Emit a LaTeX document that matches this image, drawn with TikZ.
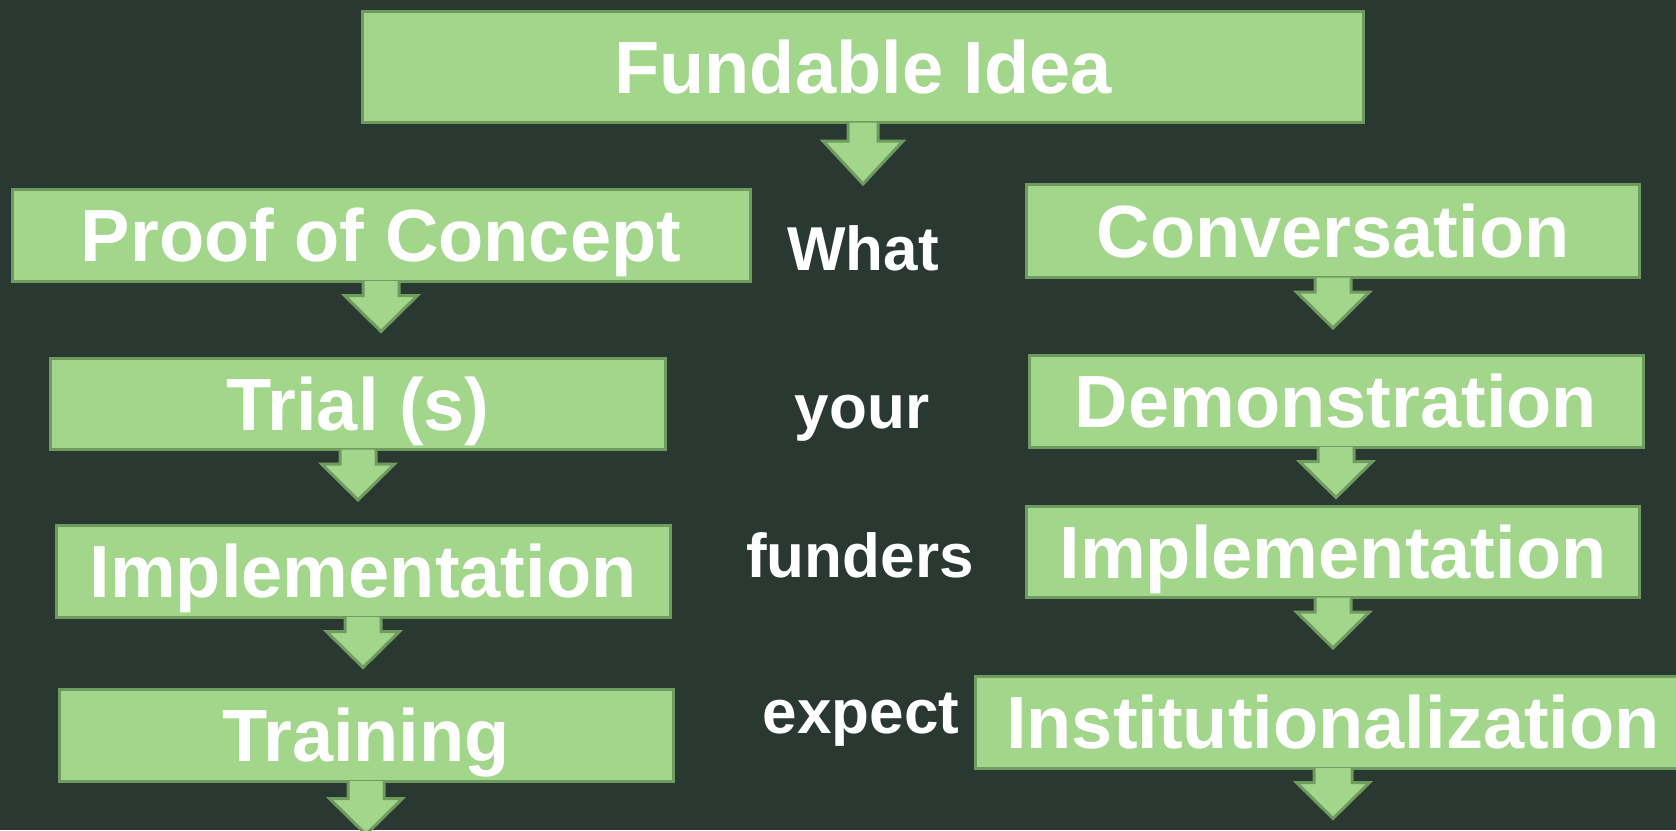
\documentclass[tikz,border=0pt]{standalone}
\usepackage{fontspec}
\setmainfont{Liberation Sans}
\usetikzlibrary{calc}
\definecolor{bgc}{RGB}{41,56,48}
\definecolor{boxfill}{RGB}{161,214,139}
\definecolor{boxline}{RGB}{111,155,95}
\newcommand\barrow[5]{%
  \filldraw[arrowshape] ($(#1.south)+(-#2,-1.5)$) -- ++(0,#3+1.5) -- ($(#1.south)+(-#4,#3)$)
    -- ($(#1.south)+(0,#3+#5)$) -- ($(#1.south)+(#4,#3)$) -- ($(#1.south)+(#2,#3)$) -- ($(#1.south)+(#2,-1.5)$);}
\begin{document}
\begin{tikzpicture}[x=1pt,y=-1pt,
  stagebox/.style={draw=boxline, line width=3pt, fill=boxfill, inner sep=0pt,
    text=white, font=\fontsize{74}{80}\selectfont\bfseries,
    text height=53pt, text depth=0pt, anchor=center},
  arrowshape/.style={draw=boxline, fill=boxfill, line width=3pt, line join=miter},
  midword/.style={text=white, font=\fontsize{62}{68}\selectfont\bfseries, anchor=base, inner sep=0pt}]
\fill[bgc] (0,0) rectangle (1676,830);
\useasboundingbox (0,0) rectangle (1676,830);
\clip (0,0) rectangle (1676,830);

\node[stagebox, minimum width=1001pt, minimum height=111pt] (idea) at (863,67) {Fundable Idea};

\node[stagebox, minimum width=738pt, minimum height=92pt] (poc) at (381,235) {Proof of Concept};
\node[stagebox, minimum width=615pt, minimum height=91pt] (trial) at (358,404) {Trial (s)};
\node[stagebox, minimum width=614pt, minimum height=92pt] (impl1) at (363,571) {Implementation};
\node[stagebox, minimum width=614pt, minimum height=92pt] (train) at (366,735) {Training};

\node[stagebox, minimum width=613pt, minimum height=93pt] (conv) at (1333,231) {Conversation};
\node[stagebox, minimum width=614pt, minimum height=92pt] (demo) at (1336,401) {Demonstration};
\node[stagebox, minimum width=613pt, minimum height=91pt] (impl2) at (1333,552) {Implementation};
\node[stagebox, minimum width=716pt, minimum height=92pt] (inst) at (1333,722) {Institutionalization};

\barrow{idea}{15}{17}{40}{43}
\barrow{poc}{18}{13}{36.5}{36}
\barrow{trial}{18}{13}{36.5}{36}
\barrow{impl1}{18}{13}{36.5}{36}
\barrow{train}{18}{16}{36.5}{36}
\barrow{conv}{18}{13}{36.5}{36}
\barrow{demo}{18}{13}{36.5}{36}
\barrow{impl2}{18}{13}{36.5}{36}
\barrow{inst}{19}{13}{36.5}{36}

\node[midword] (w1) at (863,270) {What};
\node[midword] (w2) at (862,428) {your};
\node[midword] (w3) at (860,577) {funders};
\node[midword] (w4) at (861,733) {expect};
\end{tikzpicture}
\end{document}
